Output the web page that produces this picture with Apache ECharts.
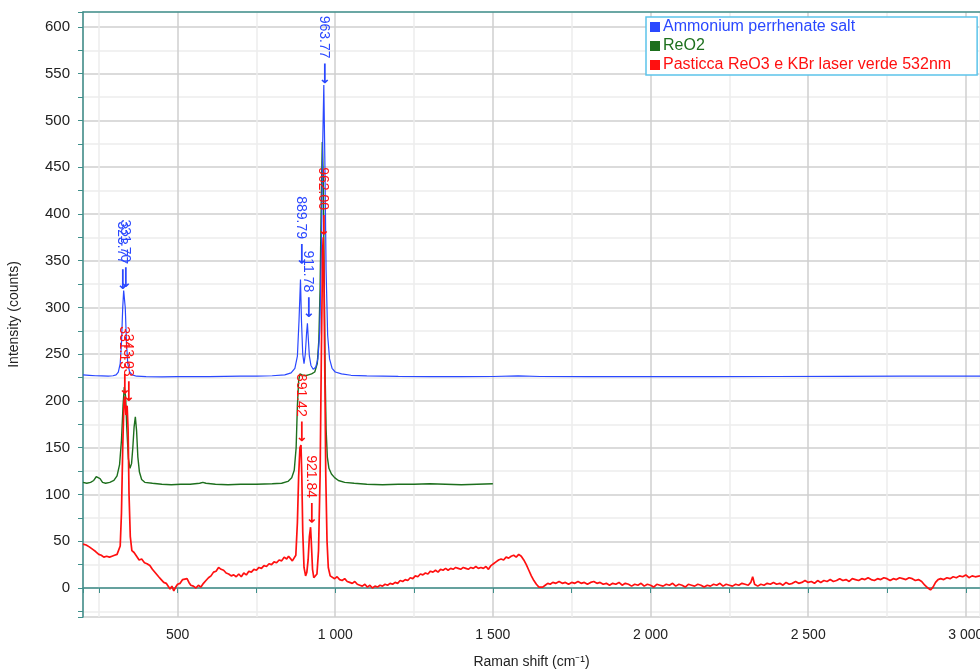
<!DOCTYPE html>
<html>
<head>
<meta charset="utf-8">
<script src="https://cdn.jsdelivr.net/npm/echarts@6/dist/echarts.min.js"></script>
<style>
  html, body { margin: 0; background: #fff; }
  #chart { width: 980px; height: 671px; }
</style>
</head>
<body>
<div id="chart"></div>
<script>
// series names as in the legend
const seriesNames = [
  "Ammonium perrhenate salt",
  "ReO2",
  "Pasticca ReO3 e KBr laser verde 532nm",
];
const seriesColors = ["#2a48ff", "#1d6f1d", "#ff1010"];

// [Raman shift, counts]
const ammoniumData = [
  [200, 228], [220, 227.5], [240, 227], [260, 226.8], [280, 226.5], [295, 227], [305, 228],
  [312, 231], [318, 240], [322, 262], [326, 300], [329, 318], [331.7, 319], [334, 300],
  [338, 262], [342, 240], [348, 231], [356, 228], [370, 226.5], [400, 226], [450, 225.8],
  [500, 226], [550, 226.2], [600, 226], [650, 226.3], [700, 226.5], [750, 226.7], [800, 227],
  [840, 228], [860, 230], [872, 235], [880, 248], [885, 285], [889.8, 330], [893, 285],
  [897, 250], [901, 240], [905, 250], [909, 272], [911.8, 283], [914, 270], [918, 248],
  [923, 238], [930, 234], [938, 236], [945, 245], [951, 275], [956, 360], [960, 470],
  [963.8, 538], [967, 460], [971, 340], [976, 270], [982, 245], [990, 235], [1000, 231],
  [1020, 229], [1050, 227.5], [1100, 226.8], [1200, 226.3], [1300, 226], [1400, 226],
  [1500, 226.2], [1580, 226.8], [1650, 226.2], [1800, 226], [2000, 226], [2200, 226],
  [2400, 226.2], [2600, 226.3], [2800, 226.5], [3000, 226.5], [3045, 226.5],
];

const reo2Data = [
  [200, 113], [212, 112], [224, 113], [234, 115], [242, 119], [248, 121], [254, 117],
  [262, 113], [272, 112], [285, 113], [298, 115], [308, 120], [316, 132], [322, 158],
  [327, 195], [331, 215], [335, 205], [339, 170], [344, 138], [349, 128], [354, 133],
  [358, 150], [362, 172], [366, 183], [370, 168], [374, 140], [379, 124], [386, 116],
  [396, 113], [420, 112], [450, 111], [480, 110.5], [510, 111], [540, 111], [570, 112],
  [580, 113], [590, 112], [620, 111], [660, 110.5], [700, 111], [750, 111], [800, 111.5],
  [830, 112], [850, 114], [862, 118], [870, 126], [876, 150], [880, 195], [884, 222],
  [888, 229], [895, 228], [905, 227], [915, 228], [925, 229], [935, 231], [943, 240],
  [948, 265], [952, 320], [956, 420], [959, 477], [962, 440], [965, 330], [968, 230],
  [971, 170], [975, 140], [980, 128], [988, 122], [998, 118], [1010, 115], [1030, 113],
  [1060, 112], [1100, 111], [1150, 110.5], [1200, 111], [1250, 111], [1300, 111.5],
  [1350, 111], [1400, 110.5], [1450, 111], [1500, 111.5],
];

const pasticcaData = [
  [200, 47], [210, 46], [220, 44], [232, 41], [240, 39], [250, 36], [258, 35], [266, 33],
  [275, 34], [284, 33], [292, 34], [300, 35], [308, 36], [314, 38], [318, 45], [322, 80],
  [326, 150], [330, 200], [333, 205], [336, 185], [340, 195], [343, 170], [346, 100],
  [350, 55], [355, 40], [362, 38], [370, 34], [378, 30], [386, 31], [395, 27], [403, 26],
  [412, 24], [420, 20], [430, 16], [440, 12], [448, 9], [456, 6], [464, 5], [470, 3],
  [476, -1], [482, 2], [488, -3], [494, 1], [500, 4], [508, 5], [516, 9], [522, 7],
  [530, 10], [536, 6], [542, 3], [550, 2], [558, 0], [566, 3], [574, 1], [582, 5],
  [590, 8], [598, 11], [606, 13], [614, 17], [622, 18], [630, 22], [638, 20], [646, 19],
  [654, 16], [662, 15], [670, 13], [678, 14], [686, 12], [694, 15], [702, 12], [710, 16],
  [718, 14], [726, 18], [734, 17], [742, 20], [750, 19], [758, 22], [766, 21], [774, 24],
  [782, 23], [790, 26], [798, 25], [806, 28], [814, 27], [822, 30], [830, 29], [838, 33],
  [846, 31], [852, 34], [858, 32], [864, 29], [870, 28], [875, 35], [880, 70], [884, 120],
  [888, 150], [891.4, 153], [894, 120], [897, 60], [901, 22], [906, 13], [910, 17],
  [914, 30], [918, 55], [921.8, 65], [924, 50], [928, 20], [932, 11], [937, 9], [942, 15],
  [947, 40], [952, 120], [956, 250], [960, 360], [962, 375], [964, 340], [967, 230],
  [970, 120], [974, 50], [978, 22], [984, 13], [990, 14], [998, 10], [1006, 12], [1014, 9],
  [1022, 8], [1030, 10], [1038, 7], [1046, 6], [1054, 5], [1062, 7], [1070, 4], [1078, 3],
  [1086, 2], [1094, 4], [1102, 1], [1110, 3], [1118, 0], [1126, 2], [1134, 1], [1142, 3],
  [1150, 2], [1158, 4], [1166, 3], [1174, 5], [1182, 4], [1190, 6], [1198, 5], [1206, 8],
  [1214, 7], [1222, 9], [1230, 8], [1238, 11], [1246, 10], [1254, 13], [1262, 12],
  [1270, 15], [1278, 14], [1286, 16], [1294, 15], [1302, 18], [1310, 17], [1318, 19],
  [1326, 17], [1334, 20], [1342, 19], [1350, 21], [1358, 19], [1366, 21], [1374, 20],
  [1382, 22], [1390, 21], [1398, 20], [1406, 22], [1414, 21], [1422, 20], [1430, 22],
  [1438, 21], [1446, 23], [1454, 21], [1462, 22], [1470, 21], [1478, 23], [1486, 20],
  [1494, 24], [1502, 26], [1510, 28], [1518, 30], [1526, 31], [1534, 30], [1542, 33],
  [1550, 32], [1558, 34], [1566, 35], [1574, 33], [1582, 36], [1590, 34], [1598, 30],
  [1606, 25], [1614, 19], [1622, 13], [1630, 8], [1638, 4], [1646, 1], [1652, -1],
  [1658, 1], [1666, 3], [1674, 5], [1682, 4], [1690, 6], [1700, 5], [1710, 7], [1720, 5],
  [1730, 6], [1740, 4], [1750, 6], [1760, 5], [1770, 7], [1780, 5], [1790, 6], [1800, 4],
  [1810, 6], [1820, 7], [1830, 5], [1840, 6], [1850, 4], [1860, 5], [1870, 3], [1880, 5],
  [1890, 4], [1900, 6], [1910, 3], [1920, 5], [1930, 4], [1940, 2], [1950, 4], [1960, 3],
  [1970, 5], [1980, 2], [1990, 4], [2000, 3], [2010, 1], [2020, 4], [2030, 3], [2040, 2],
  [2050, 4], [2060, 3], [2070, 5], [2080, 2], [2090, 4], [2100, 3], [2110, 1], [2120, 4],
  [2130, 3], [2140, 2], [2150, 4], [2160, 3], [2170, 1], [2180, 3], [2190, 2], [2200, 4],
  [2210, 3], [2220, 5], [2230, 2], [2240, 4], [2250, 3], [2260, 2], [2270, 4], [2280, 3],
  [2290, 5], [2300, 4], [2310, 3], [2318, 6], [2324, 12], [2330, 4], [2340, 2], [2350, 4],
  [2360, 3], [2370, 5], [2380, 4], [2390, 6], [2400, 4], [2410, 5], [2420, 3], [2430, 6],
  [2440, 4], [2450, 5], [2460, 7], [2470, 5], [2480, 6], [2490, 8], [2500, 6], [2510, 7],
  [2520, 5], [2530, 8], [2540, 6], [2550, 8], [2560, 7], [2570, 9], [2580, 7], [2590, 8],
  [2600, 10], [2610, 8], [2620, 9], [2630, 7], [2640, 10], [2650, 9], [2660, 8], [2670, 10],
  [2680, 9], [2690, 11], [2700, 9], [2710, 8], [2720, 10], [2730, 9], [2740, 11], [2750, 10],
  [2760, 8], [2770, 10], [2780, 9], [2790, 11], [2800, 10], [2810, 9], [2820, 11],
  [2830, 10], [2840, 8], [2850, 9], [2860, 7], [2870, 3], [2880, 0], [2888, -2], [2896, 1],
  [2904, 6], [2912, 9], [2920, 10], [2930, 9], [2940, 11], [2950, 10], [2960, 12],
  [2970, 11], [2980, 13], [2990, 12], [3000, 14], [3010, 11], [3020, 13], [3030, 12],
  [3045, 13],
];

// labelled peaks: [shift, counts at the arrow tip]
const ammoniumPeaks = [[323.77, 318], [331.70, 320], [889.79, 345], [911.78, 288], [963.77, 538]];
const pasticcaPeaks = [[331.13, 206], [343.03, 198], [891.42, 155], [921.84, 68], [962.00, 376]];

const axisColor = "#3f8f8b";
const textFont = "Liberation Sans, Arial, sans-serif";

const chart = echarts.init(document.getElementById("chart"));

function peakMarks(peaks, color) {
  return {
    symbol: "circle",
    symbolSize: 0,
    silent: true,
    label: {
      show: true,
      position: "top",
      distance: 1,
      rotate: -90,
      align: "right",
      verticalAlign: "middle",
      color: color,
      fontFamily: textFont,
      fontSize: 14,
      formatter: (p) => p.data.coord[0].toFixed(2) + " {a|⟶}",
      rich: { a: { color: color, fontFamily: "DejaVu Sans", fontSize: 15, fontWeight: "bold" } },
    },
    data: peaks.map((p) => ({ coord: p })),
  };
}

function fmtShift(v) {
  if (v % 500 !== 0) return "";
  return v >= 1000 ? Math.floor(v / 1000) + " " + String(v % 1000).padStart(3, "0") : String(v);
}

const option = {
  animation: false,
  backgroundColor: "#fff",
  grid: { left: 83, right: 0, top: 12, bottom: 54, outerBoundsMode: "none" },
  legend: {
    orient: "vertical",
    left: 646,
    top: 17,
    itemWidth: 10,
    itemHeight: 10,
    itemGap: 3,
    icon: "rect",
    padding: [2, 26, 2, 4],
    borderColor: "#5cc4ea",
    borderWidth: 1.5,
    backgroundColor: "#fff",
    textStyle: { fontFamily: textFont, fontSize: 16, padding: [0, 0, 0, -2] },
    data: seriesNames.map((n, i) => ({ name: n, textStyle: { color: seriesColors[i] } })),
  },
  xAxis: [
    {
      type: "value",
      min: 200,
      max: 3045,
      minInterval: 250,
      maxInterval: 250,
      name: "Raman shift (cm⁻¹)",
      nameLocation: "middle",
      nameGap: 38,
      nameTextStyle: { color: "#222", fontFamily: textFont, fontSize: 14 },
      axisLine: { lineStyle: { color: axisColor, width: 1.5 } },
      axisTick: { show: true, length: 5, lineStyle: { color: axisColor } },
      axisLabel: {
        interval: 0,
        margin: 11,
        color: "#222",
        fontFamily: textFont,
        fontSize: 14,
        formatter: fmtShift,
      },
      splitLine: { show: true, lineStyle: { color: ["#cfcfcf", "#ececec"], width: 1.5 } },
    },
    {
      type: "value",
      position: "top",
      min: 200,
      max: 3045,
      axisLine: { show: true, lineStyle: { color: axisColor, width: 1.5 } },
      axisTick: { show: false },
      axisLabel: { show: false },
      splitLine: { show: false },
    },
  ],
  yAxis: {
    type: "value",
    min: -31,
    max: 616,
    minInterval: 25,
    maxInterval: 25,
    name: "Intensity (counts)",
    nameLocation: "middle",
    nameGap: 62,
    nameTextStyle: { color: "#222", fontFamily: textFont, fontSize: 14 },
    axisLine: { show: true, lineStyle: { color: axisColor, width: 1.5 } },
    axisTick: { show: true, length: 5, lineStyle: { color: axisColor } },
    axisLabel: {
      interval: 0,
      margin: 13,
      color: "#222",
      fontFamily: textFont,
      fontSize: 15,
      formatter: (v) => (v % 50 === 0 ? String(v) : ""),
    },
    splitLine: { show: true, lineStyle: { color: ["#cfcfcf", "#ececec"], width: 1.5 } },
  },
  series: [
    {
      name: seriesNames[0],
      type: "line",
      data: ammoniumData,
      showSymbol: false,
      z: 3,
      lineStyle: { color: seriesColors[0], width: 1.2 },
      itemStyle: { color: seriesColors[0] },
      markPoint: peakMarks(ammoniumPeaks, seriesColors[0]),
    },
    {
      name: seriesNames[1],
      type: "line",
      data: reo2Data,
      showSymbol: false,
      z: 2,
      lineStyle: { color: seriesColors[1], width: 1.4 },
      itemStyle: { color: seriesColors[1] },
    },
    {
      name: seriesNames[2],
      type: "line",
      data: pasticcaData,
      showSymbol: false,
      z: 4,
      lineStyle: { color: seriesColors[2], width: 1.7 },
      itemStyle: { color: seriesColors[2] },
      markPoint: peakMarks(pasticcaPeaks, seriesColors[2]),
    },
  ],
};

chart.setOption(option);
</script>
</body>
</html>
